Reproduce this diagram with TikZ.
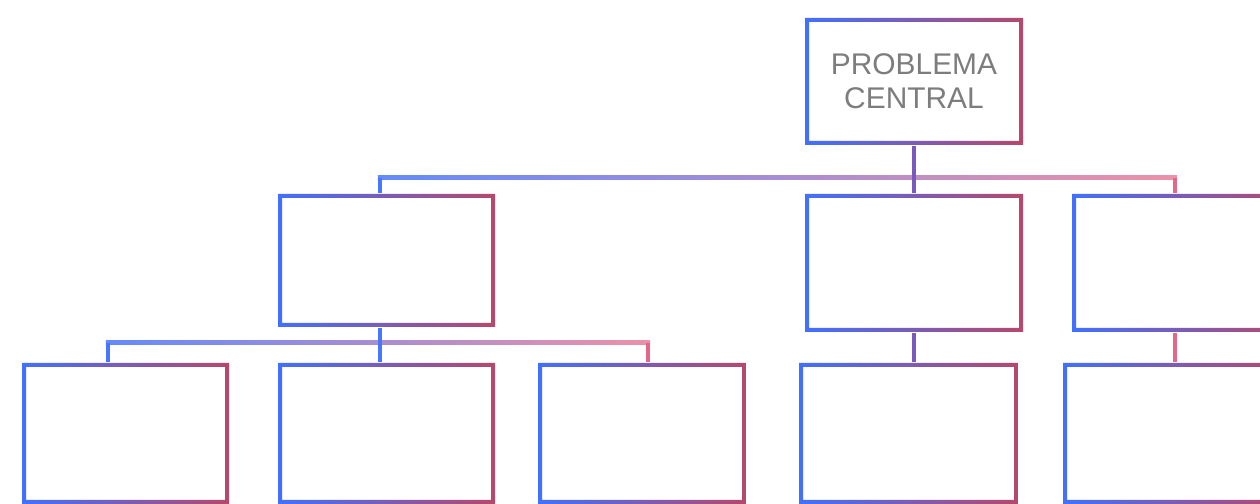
\documentclass[tikz,border=0pt]{standalone}
\usepackage{fontspec}
\newfontfamily\labelfont{Liberation Sans}
\usetikzlibrary{calc}
\definecolor{boxblue}{RGB}{65,112,252}
\definecolor{boxred}{RGB}{182,72,108}
\definecolor{busblue}{RGB}{100,138,250}
\definecolor{buspink}{RGB}{236,145,168}
\definecolor{linkblue}{RGB}{72,118,252}
\definecolor{linkpurple}{RGB}{122,88,188}
\definecolor{linkred}{RGB}{230,102,135}
\definecolor{textgray}{RGB}{125,125,125}

\tikzset{
    gradbox/.style 2 args={
        minimum width=#1*0.01cm,
        minimum height=#2*0.01cm,
        inner sep=0pt,
        fill=white,
        align=center,
        font=\labelfont\fontsize{8.5}{9.7}\selectfont,
        text=textgray,
        path picture={
            \shade[left color=boxblue, right color=boxred, even odd rule]
                (path picture bounding box.south west) rectangle (path picture bounding box.north east)
                ([shift={(0.04cm,-0.04cm)}]path picture bounding box.north west)
                rectangle ([shift={(-0.04cm,0.04cm)}]path picture bounding box.south east);
        }
    },
    link/.style={line width=0.042cm, draw=#1}
}

\begin{document}
\begin{tikzpicture}[x=0.01cm, y=-0.01cm]
    \path[use as bounding box, clip] (0,0) rectangle (1260,504);
    \fill[white] (0,0) rectangle (1260,504);

    % boxes
    \node[gradbox={218}{127}] (top) at (914,81.5) {\raisebox{-0.06cm}{}PROBLEMA\\CENTRAL};
    \node[gradbox={217}{133}] (causeA) at (386.5,260.5) {};
    \node[gradbox={218}{138}] (causeB) at (914,263) {};
    \node[gradbox={218}{138}] (causeC) at (1181,263) {};
    \node[gradbox={207}{141}] (subD) at (125.5,433.5) {};
    \node[gradbox={217}{141}] (subE) at (386.5,433.5) {};
    \node[gradbox={208}{141}] (subF) at (642,433.5) {};
    \node[gradbox={219}{141}] (subG) at (908.5,433.5) {};
    \node[gradbox={219}{141}] (subH) at (1172.5,433.5) {};

    % drop points
    \coordinate (dropA) at ($(causeA.north)+(-6.5,0)$);
    \coordinate (dropC) at ($(causeC.north)+(-6,0)$);
    \coordinate (dropD) at ($(subD.north)+(-17.5,0)$);
    \coordinate (dropE) at ($(subE.north)+(-6.5,0)$);
    \coordinate (dropF) at ($(subF.north)+(6,0)$);
    \coordinate (bus1) at ($(top.south)+(0,32)$);
    \coordinate (bus2) at ($(causeA.south)+(0,15)$);

    % first level bus
    \shade[left color=busblue, right color=buspink]
        ($(bus1 -| dropA)+(-2.1,-2.1)$) rectangle ($(bus1 -| dropC)+(2.1,2.1)$);
    \draw[link=linkpurple] (top.south) -- (bus1);
    \draw[link=linkblue] (bus1 -| dropA) -- (dropA);
    \draw[link=linkpurple] (bus1) -- (causeB.north);
    \draw[link=linkred] (bus1 -| dropC) -- (dropC);

    % second level bus
    \shade[left color=busblue, right color=buspink]
        ($(bus2 -| dropD)+(-2.1,-2.1)$) rectangle ($(bus2 -| dropF)+(2.1,2.1)$);
    \draw[link=linkblue] (causeA.south -| dropA) -- (dropE);
    \draw[link=linkblue] (bus2 -| dropD) -- (dropD);
    \draw[link=linkred] (bus2 -| dropF) -- (dropF);

    % single links
    \draw[link=linkpurple] (causeB.south) -- (causeB.south |- subG.north);
    \draw[link=linkred] (causeC.south -| dropC) -- (dropC |- subH.north);
\end{tikzpicture}
\end{document}
